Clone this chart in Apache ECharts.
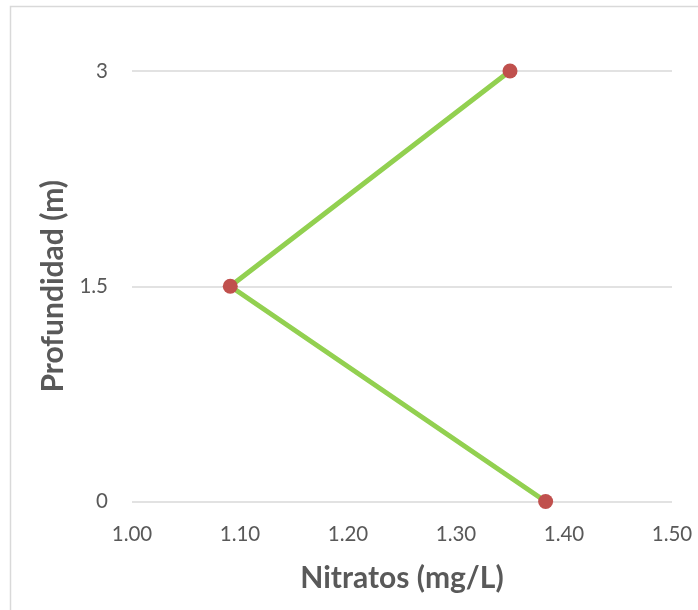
<!DOCTYPE html>
<html><head><meta charset="utf-8">
<script src="https://cdn.jsdelivr.net/npm/echarts@6/dist/echarts.min.js"></script>
<style>html,body{margin:0;padding:0;background:#fff}#c{width:698px;height:610px}</style>
</head><body><div id="c"></div>
<script>
const depths = [0, 1.5, 3];
const nitrates = [1.383, 1.091, 1.350];
const xTicks = [1.00, 1.10, 1.20, 1.30, 1.40, 1.50];
const yTicks = [0, 1.5, 3];
const xTitle = 'Nitratos (mg/L)';
const yTitle = 'Profundidad (m)';

const chart = echarts.init(document.getElementById('c'));
const font = 'Lato, "Open Sans", sans-serif';
chart.setOption({
  animation: false,
  backgroundColor: '#fff',
  graphic: [{type:'rect', shape:{x:10.5, y:6.5, width:800, height:800}, style:{fill:'none', stroke:'#d9d9d9', lineWidth:1.5}, silent:true}],
  grid: {left:132, right:26, top:71, bottom:108.5, containLabel:false},
  xAxis: {
    type:'value', min:xTicks[0], max:xTicks[xTicks.length-1], interval:0.1,
    axisLine:{show:false}, axisTick:{show:false}, splitLine:{show:false},
    axisLabel:{formatter:v=>v.toFixed(2), color:'#595959', fontFamily:font, fontSize:20.5, margin:22},
    name:xTitle, nameLocation:'middle', nameGap:62,
    nameTextStyle:{color:'#595959', fontFamily:font, fontSize:30, fontWeight:'bold'}
  },
  yAxis: {
    type:'value', min:yTicks[0], max:yTicks[yTicks.length-1], interval:1.5,
    axisLine:{show:false}, axisTick:{show:false},
    splitLine:{show:true, lineStyle:{color:'#d9d9d9', width:1.5}},
    axisLabel:{color:'#595959', fontFamily:font, fontSize:20.5, margin:24},
    name:yTitle, nameLocation:'middle', nameGap:62,
    nameTextStyle:{color:'#595959', fontFamily:font, fontSize:30, fontWeight:'bold'}
  },
  series: [{
    type:'line', data: depths.map((d,i)=>[nitrates[i], d]),
    lineStyle:{color:'#92d050', width:5},
    symbol:'circle', symbolSize:15,
    itemStyle:{color:'#c0504d', borderWidth:0},
    z:3
  }]
});
</script></body></html>
